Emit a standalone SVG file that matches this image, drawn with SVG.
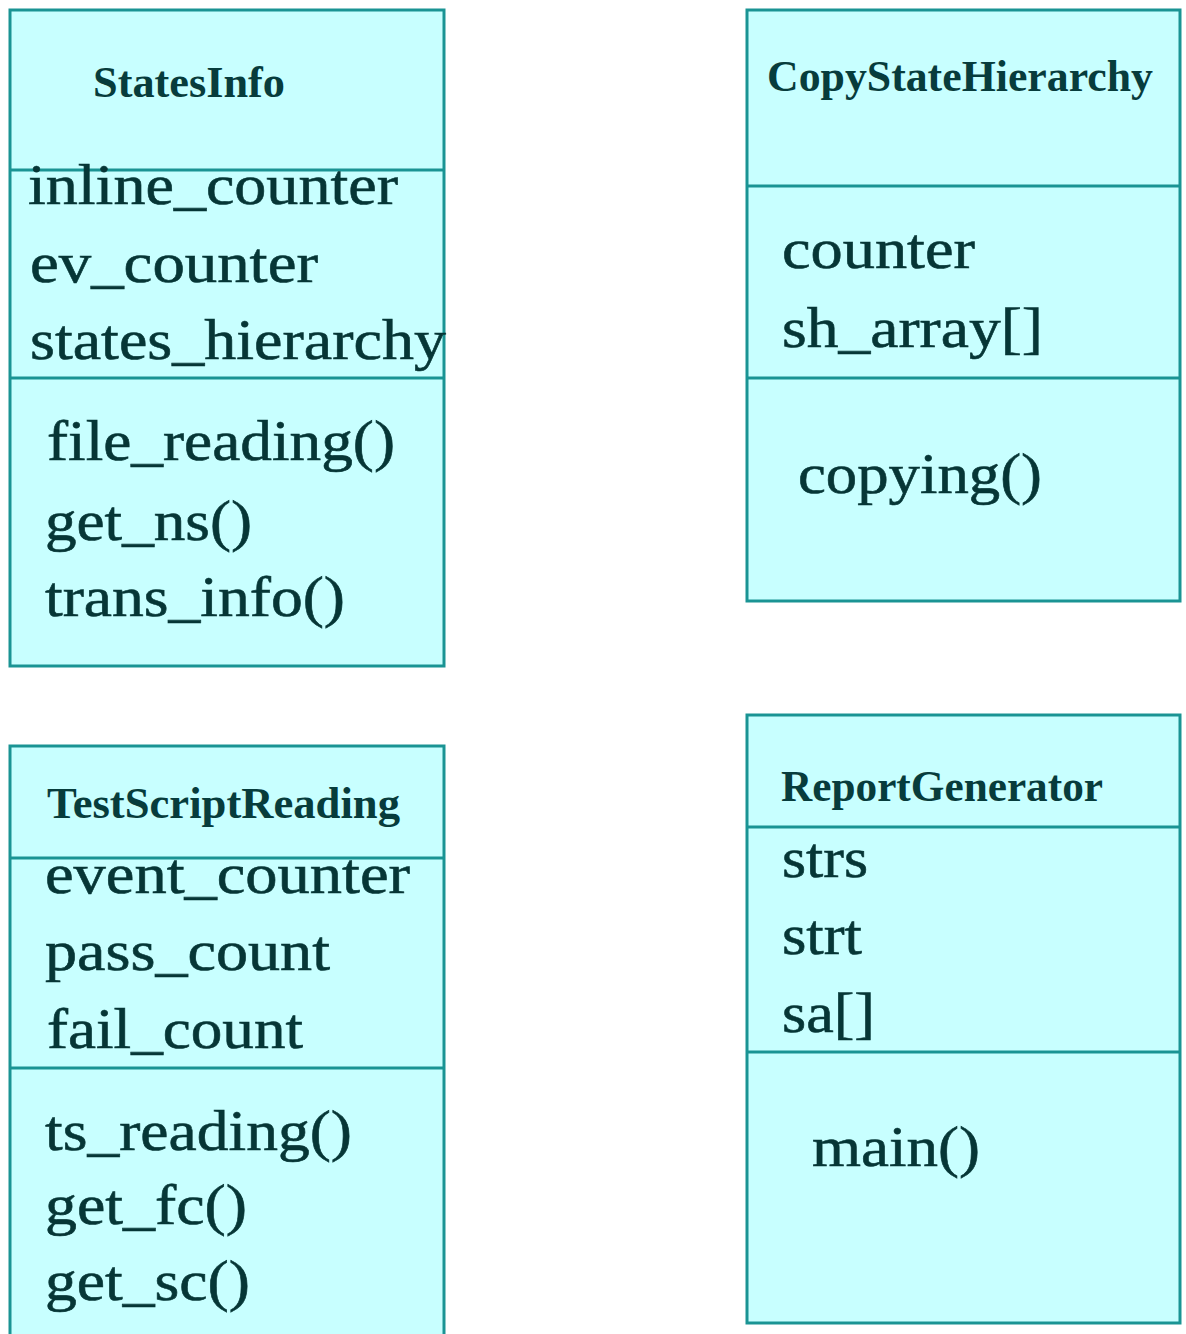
<svg xmlns="http://www.w3.org/2000/svg" width="1186" height="1334" viewBox="0 0 1186 1334">
  <style>
    .box { fill: #c8ffff; stroke: #1a9494; stroke-width: 3; }
    .sep { stroke: #1a9494; stroke-width: 3; }
    .title { font-family: "Liberation Serif", "Times New Roman", serif; font-weight: bold; font-size: 44px; fill: #073c3c; }
    .member { font-family: "Liberation Serif", "Times New Roman", serif; font-size: 57px; fill: #063636; stroke: #063636; stroke-width: 0.6; }
  </style>
  <rect width="1186" height="1334" fill="#ffffff"/>

  <!-- StatesInfo -->
  <g id="StatesInfo">
    <rect class="box" x="10" y="10" width="434" height="656"/>
    <line class="sep" x1="10" y1="170" x2="444" y2="170"/>
    <line class="sep" x1="10" y1="378" x2="444" y2="378"/>
    <text class="title" x="93" y="97" textLength="192" lengthAdjust="spacingAndGlyphs">StatesInfo</text>
    <text class="member" x="28" y="204" textLength="370" lengthAdjust="spacingAndGlyphs">inline_counter</text>
    <text class="member" x="30" y="282" textLength="288" lengthAdjust="spacingAndGlyphs">ev_counter</text>
    <text class="member" x="30" y="359" textLength="416" lengthAdjust="spacingAndGlyphs">states_hierarchy</text>
    <text class="member" x="47" y="460" textLength="348" lengthAdjust="spacingAndGlyphs">file_reading()</text>
    <text class="member" x="45" y="540" textLength="207" lengthAdjust="spacingAndGlyphs">get_ns()</text>
    <text class="member" x="45" y="616" textLength="300" lengthAdjust="spacingAndGlyphs">trans_info()</text>
  </g>

  <!-- CopyStateHierarchy -->
  <g id="CopyStateHierarchy">
    <rect class="box" x="747" y="10" width="433" height="591"/>
    <line class="sep" x1="747" y1="186" x2="1180" y2="186"/>
    <line class="sep" x1="747" y1="378" x2="1180" y2="378"/>
    <text class="title" x="767" y="91" textLength="386" lengthAdjust="spacingAndGlyphs">CopyStateHierarchy</text>
    <text class="member" x="782" y="268" textLength="193" lengthAdjust="spacingAndGlyphs">counter</text>
    <text class="member" x="782" y="347" textLength="261" lengthAdjust="spacingAndGlyphs">sh_array[]</text>
    <text class="member" x="798" y="493" textLength="244" lengthAdjust="spacingAndGlyphs">copying()</text>
  </g>

  <!-- TestScriptReading -->
  <g id="TestScriptReading">
    <rect class="box" x="10" y="746" width="434" height="600"/>
    <line class="sep" x1="10" y1="858" x2="444" y2="858"/>
    <line class="sep" x1="10" y1="1068" x2="444" y2="1068"/>
    <text class="title" x="47" y="818" textLength="353" lengthAdjust="spacingAndGlyphs">TestScriptReading</text>
    <text class="member" x="45" y="893" textLength="365" lengthAdjust="spacingAndGlyphs">event_counter</text>
    <text class="member" x="45" y="970" textLength="285" lengthAdjust="spacingAndGlyphs">pass_count</text>
    <text class="member" x="47" y="1048" textLength="256" lengthAdjust="spacingAndGlyphs">fail_count</text>
    <text class="member" x="45" y="1150" textLength="307" lengthAdjust="spacingAndGlyphs">ts_reading()</text>
    <text class="member" x="45" y="1224" textLength="202" lengthAdjust="spacingAndGlyphs">get_fc()</text>
    <text class="member" x="45" y="1300" textLength="205" lengthAdjust="spacingAndGlyphs">get_sc()</text>
  </g>

  <!-- ReportGenerator -->
  <g id="ReportGenerator">
    <rect class="box" x="747" y="715" width="433" height="608"/>
    <line class="sep" x1="747" y1="827" x2="1180" y2="827"/>
    <line class="sep" x1="747" y1="1052" x2="1180" y2="1052"/>
    <text class="title" x="781" y="801" textLength="322" lengthAdjust="spacingAndGlyphs">ReportGenerator</text>
    <text class="member" x="782" y="877" textLength="86" lengthAdjust="spacingAndGlyphs">strs</text>
    <text class="member" x="782" y="954" textLength="80" lengthAdjust="spacingAndGlyphs">strt</text>
    <text class="member" x="782" y="1032" textLength="93" lengthAdjust="spacingAndGlyphs">sa[]</text>
    <text class="member" x="812" y="1166" textLength="168" lengthAdjust="spacingAndGlyphs">main()</text>
  </g>

  <!-- no associations between the classes -->
  <g id="connectors"></g>
</svg>
